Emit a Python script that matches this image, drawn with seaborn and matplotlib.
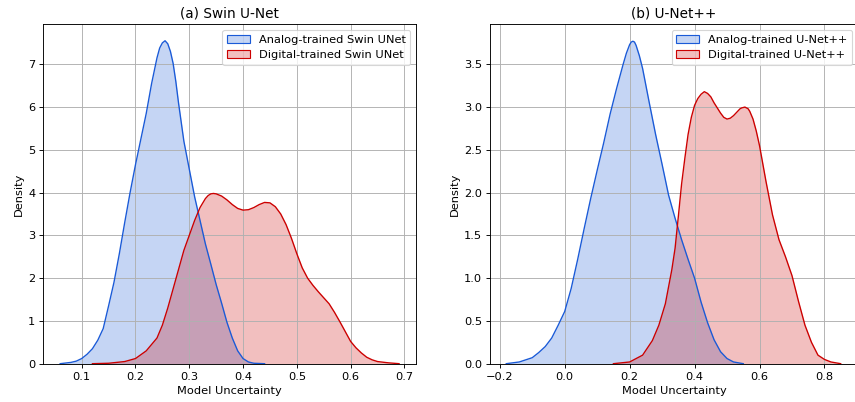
import matplotlib
matplotlib.use("Agg")
import matplotlib.pyplot as plt
from matplotlib.patches import Patch
from matplotlib.colors import to_rgba
import seaborn as sns
import pandas as pd

# density curves (x = model uncertainty, y = density)
swin_analog_x = [0.06, 0.08, 0.09, 0.10, 0.11, 0.12, 0.13, 0.14, 0.15, 0.16, 0.17,
                 0.18, 0.19, 0.20, 0.21, 0.22, 0.23, 0.24, 0.245, 0.25, 0.255, 0.26,
                 0.265, 0.27, 0.275, 0.28, 0.29, 0.30, 0.31, 0.32, 0.33, 0.34, 0.35,
                 0.36, 0.37, 0.38, 0.39, 0.40, 0.41, 0.42, 0.44]
swin_analog_y = [0.0, 0.03, 0.06, 0.12, 0.22, 0.35, 0.55, 0.82, 1.35, 1.9, 2.57,
                 3.3, 4.0, 4.65, 5.25, 5.85, 6.55, 7.15, 7.38, 7.5, 7.55, 7.48,
                 7.3, 7.02, 6.6, 6.1, 5.2, 4.55, 3.9, 3.35, 2.8, 2.33, 1.85,
                 1.42, 0.97, 0.6, 0.3, 0.12, 0.04, 0.01, 0.0]

swin_digital_x = [0.12, 0.15, 0.18, 0.20, 0.22, 0.24, 0.25, 0.26, 0.27, 0.28, 0.29,
                  0.30, 0.31, 0.32, 0.33, 0.335, 0.34, 0.345, 0.35, 0.36, 0.37, 0.38,
                  0.39, 0.40, 0.41, 0.42, 0.43, 0.44, 0.45, 0.46, 0.47, 0.48, 0.49,
                  0.50, 0.51, 0.52, 0.53, 0.54, 0.55, 0.56, 0.57, 0.58, 0.59, 0.60,
                  0.61, 0.62, 0.63, 0.64, 0.65, 0.67, 0.69]
swin_digital_y = [0.0, 0.01, 0.05, 0.12, 0.3, 0.6, 0.9, 1.3, 1.75, 2.2, 2.65,
                  3.0, 3.35, 3.65, 3.86, 3.93, 3.97, 3.98, 3.97, 3.92, 3.83, 3.72,
                  3.63, 3.59, 3.6, 3.65, 3.72, 3.77, 3.76, 3.67, 3.5, 3.25, 2.93,
                  2.57, 2.24, 2.0, 1.83, 1.68, 1.54, 1.4, 1.2, 0.98, 0.75, 0.52,
                  0.37, 0.25, 0.15, 0.09, 0.05, 0.02, 0.0]

unetpp_analog_x = [-0.18, -0.14, -0.10, -0.08, -0.06, -0.04, -0.02, 0.00, 0.02, 0.04,
                   0.06, 0.08, 0.10, 0.12, 0.14, 0.16, 0.18, 0.19, 0.20, 0.205, 0.21,
                   0.215, 0.22, 0.23, 0.24, 0.26, 0.28, 0.30, 0.32, 0.34, 0.36, 0.38,
                   0.40, 0.42, 0.44, 0.46, 0.48, 0.50, 0.52, 0.55]
unetpp_analog_y = [0.0, 0.02, 0.07, 0.13, 0.2, 0.3, 0.45, 0.61, 0.88, 1.22,
                   1.58, 1.93, 2.26, 2.58, 2.92, 3.22, 3.5, 3.63, 3.73, 3.76, 3.77,
                   3.76, 3.72, 3.6, 3.45, 3.06, 2.68, 2.33, 1.97, 1.7, 1.45, 1.22,
                   1.0, 0.72, 0.48, 0.28, 0.14, 0.06, 0.02, 0.0]

unetpp_digital_x = [0.15, 0.20, 0.24, 0.27, 0.29, 0.31, 0.33, 0.34, 0.35, 0.36, 0.37,
                    0.38, 0.39, 0.40, 0.41, 0.42, 0.43, 0.44, 0.45, 0.46, 0.47, 0.48,
                    0.49, 0.50, 0.51, 0.52, 0.53, 0.54, 0.545, 0.555, 0.565, 0.57,
                    0.58, 0.59, 0.60, 0.62, 0.64, 0.66, 0.68, 0.70, 0.72, 0.74, 0.76,
                    0.78, 0.80, 0.82, 0.85]
unetpp_digital_y = [0.0, 0.02, 0.1, 0.27, 0.45, 0.7, 1.1, 1.35, 1.72, 2.1, 2.4,
                    2.68, 2.88, 3.02, 3.1, 3.15, 3.18, 3.16, 3.12, 3.05, 2.99, 2.93,
                    2.88, 2.86, 2.87, 2.9, 2.94, 2.98, 2.99, 3.0, 2.98, 2.95,
                    2.86, 2.72, 2.55, 2.13, 1.74, 1.45, 1.25, 1.03, 0.73, 0.45, 0.25,
                    0.1, 0.05, 0.02, 0.0]

panels = [
    {"title": "(a) Swin U-Net",
     "curves": [("Analog-trained Swin UNet", swin_analog_x, swin_analog_y),
                ("Digital-trained Swin UNet", swin_digital_x, swin_digital_y)],
     "xlim": (0.0286, 0.7214), "ylim": (0, 7.935)},
    {"title": "(b) U-Net++",
     "curves": [("Analog-trained U-Net++", unetpp_analog_x, unetpp_analog_y),
                ("Digital-trained U-Net++", unetpp_digital_x, unetpp_digital_y)],
     "xlim": (-0.229, 0.902), "ylim": (0, 3.968)},
]
colors = ["#1a5ad7", "#cc0000"]

dpi = 82
fig = plt.figure(figsize=(855 / dpi, 402 / dpi), dpi=dpi)
axes = [fig.add_axes([0.0506, 0.0953, 0.4359, 0.8443]),
        fig.add_axes([0.5735, 0.0953, 0.4295, 0.8443])]

for ax, panel in zip(axes, panels):
    handles = []
    for (label, xs, ys), c in zip(panel["curves"], colors):
        df = pd.DataFrame({"x": xs, "y": ys})
        ax.fill_between(df["x"], df["y"], color=to_rgba(c, 0.25), linewidth=0)
        sns.lineplot(data=df, x="x", y="y", color=c, linewidth=1.2, ax=ax)
        handles.append(Patch(facecolor=to_rgba(c, 0.25), edgecolor=c, label=label))
    ax.set_xlim(*panel["xlim"])
    ax.set_ylim(*panel["ylim"])
    ax.grid(True)
    ax.set_title(panel["title"])
    ax.set_xlabel("Model Uncertainty")
    ax.set_ylabel("Density")
    ax.legend(handles=handles, loc="upper right")

fig.savefig("out.png", dpi=dpi)
